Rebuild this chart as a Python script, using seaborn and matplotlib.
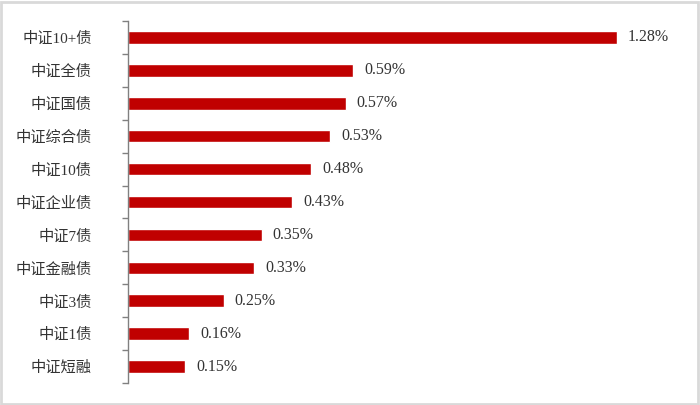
import matplotlib.pyplot as plt
import seaborn as sns
import pandas as pd
from matplotlib.patches import Rectangle

names = ['中证10+债', '中证全债', '中证国债', '中证综合债', '中证10债', '中证企业债',
         '中证7债', '中证金融债', '中证3债', '中证1债', '中证短融']
returns = [1.28, 0.59, 0.57, 0.53, 0.48, 0.43, 0.35, 0.33, 0.25, 0.16, 0.15]

df = pd.DataFrame({'name': names, 'ret': returns})

sns.set_style('white')
plt.rcParams['font.family'] = ['Liberation Serif', 'Noto Sans CJK SC', 'DejaVu Sans']

fig = plt.figure(figsize=(7, 4.05), dpi=100)
ax = fig.add_axes([128 / 700, 1 - 383 / 405, 560 / 700, 362 / 405])

sns.barplot(data=df, x='ret', y='name', orient='h', color='#C00000',
            saturation=1, width=0.38, ax=ax)

ax.set_xlim(0, 560 / 382)
ax.set_ylim(len(names) - 0.5, -0.5)
ax.set_xlabel('')
ax.set_ylabel('')
ax.set_xticks([])

for s in ['top', 'right', 'bottom']:
    ax.spines[s].set_visible(False)
ax.spines['left'].set_color('#808080')
ax.spines['left'].set_linewidth(1)

ax.set_yticks([i - 0.5 for i in range(len(names) + 1)], minor=True)
ax.tick_params(axis='y', which='minor', length=4, color='#808080', width=1, direction='out', left=True)
ax.tick_params(axis='y', which='major', length=0, pad=26, labelsize=11, labelcolor='#333333')
for lab in ax.get_yticklabels():
    lab.set_fontweight('light')

for i, v in enumerate(returns):
    ax.annotate(f'{v:.2f}%', (v, i), xytext=(8, 0), textcoords='offset points',
                va='center', ha='left', fontsize=11.5, color='#333333')

fig.patches.append(Rectangle((0.002, 0.003), 0.995, 0.993, transform=fig.transFigure,
                             fill=False, edgecolor='#d9d9d9', linewidth=2))

fig.savefig('out.png', dpi=100)
